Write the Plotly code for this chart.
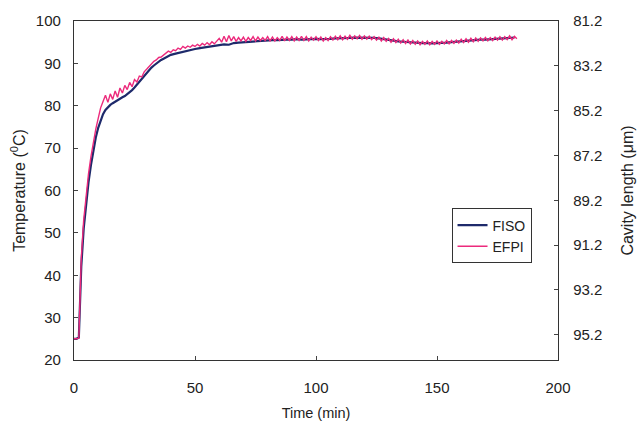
import plotly.graph_objects as go

fiso_time = list(range(0, 41)) + list(range(42, 184, 2))
fiso_temp = [
    25.0, 25.0, 25.3, 42.0, 51.0, 57.0, 62.0, 66.0, 69.5, 72.5,
    74.8, 76.6, 78.0, 79.0, 79.7, 80.2, 80.6, 81.0, 81.3, 81.6,
    82.0, 82.3, 82.7, 83.2, 83.7, 84.3, 85.0, 85.7, 86.4, 87.1,
    87.8, 88.4, 89.0, 89.5, 90.0, 90.4, 90.8, 91.1, 91.4, 91.7,
    92.0,
    92.3, 92.6, 92.9, 93.2, 93.4, 93.6, 93.8, 94.0, 94.2, 94.3,
    94.5, 94.4, 94.8, 94.9, 95.0, 95.1, 95.2, 95.3, 95.4, 95.4,
    95.5, 95.5, 95.6, 95.6, 95.6, 95.7, 95.6, 95.7, 95.8, 95.8,
    95.7, 95.7, 95.8, 95.9, 95.9, 96.0, 96.0, 96.1, 96.1, 96.1,
    96.0, 96.0, 95.9, 95.7, 95.5, 95.3, 95.2, 95.1, 95.0, 94.9,
    94.9, 94.8, 94.8, 94.7, 94.8, 94.8, 94.9, 95.0, 95.1, 95.3,
    95.4, 95.5, 95.5, 95.6, 95.6, 95.7, 95.8, 95.8, 95.9, 96.0,
    96.1,
]

efpi_time = list(range(0, 184))
efpi_temp = [
    25.0, 25.0, 25.2, 44.0, 53.0, 59.0, 64.0, 68.0, 71.5, 74.5,
    77.0, 79.5, 81.0, 82.5, 80.8, 82.8, 81.5, 83.5, 82.0, 84.2,
    83.0, 84.8, 83.8, 85.5, 84.5, 86.2, 85.6, 87.0, 86.8, 88.0,
    88.6, 89.3, 89.8, 90.5, 90.8, 91.4, 91.5, 92.0, 92.3, 92.9,
    92.6, 93.2, 93.0, 93.6, 93.3, 94.0, 93.6, 94.1, 93.8, 94.3,
    94.0, 94.5, 94.1, 94.7, 94.3, 94.9, 94.4, 95.1, 94.6, 95.4,
    95.9, 95.0, 96.4, 95.1, 96.6, 95.3, 96.3, 95.2, 96.1, 95.3,
    96.2, 95.2, 96.1, 95.4, 96.3, 95.3, 96.2, 95.4, 96.1, 95.4,
    96.3, 95.3, 96.2, 95.3, 96.1, 95.4, 96.4, 95.3, 96.2, 95.4,
    96.3, 95.3, 96.2, 95.4, 96.4, 95.4, 96.3, 95.3, 96.2, 95.5,
    96.3, 95.4, 96.2, 95.3, 96.1, 95.4, 96.3, 95.5, 96.4, 95.6,
    96.5, 95.6, 96.4, 95.7, 96.6, 95.7, 96.5, 95.8, 96.6, 95.7,
    96.5, 95.7, 96.4, 95.6, 96.3, 95.5, 96.2, 95.3, 96.1, 95.2,
    95.9, 95.0, 95.8, 94.9, 95.7, 94.8, 95.6, 94.7, 95.5, 94.6,
    95.4, 94.5, 95.3, 94.4, 95.2, 94.5, 95.3, 94.4, 95.2, 94.5,
    95.3, 94.5, 95.2, 94.6, 95.4, 94.6, 95.4, 94.7, 95.5, 94.8,
    95.7, 94.9, 95.8, 95.0, 95.9, 95.1, 96.0, 95.2, 96.0, 95.3,
    96.1, 95.3, 96.1, 95.4, 96.2, 95.5, 96.3, 95.5, 96.3, 95.6,
    96.5, 95.6, 96.4, 95.8,
]

x_ticks = [0, 50, 100, 150, 200]
temp_ticks = [20, 30, 40, 50, 60, 70, 80, 90, 100]
cavity_ticks = [81.2, 83.2, 85.2, 87.2, 89.2, 91.2, 93.2, 95.2]
cavity_labels = ["81.2", "83.2", "85.2", "87.2", "89.2", "91.2", "93.2", "95.2"]

FONT = "Liberation Sans, Arial, sans-serif"

fig = go.Figure()
fig.add_trace(go.Scatter(x=fiso_time, y=fiso_temp, mode="lines", name="FISO",
                         line=dict(color="#1e2a6b", width=2.2)))
fig.add_trace(go.Scatter(x=efpi_time, y=efpi_temp, mode="lines", name="EFPI",
                         line=dict(color="#ec2a7c", width=1.4)))
# empty trace that carries the right-hand axis
fig.add_trace(go.Scatter(x=[0], y=[90], yaxis="y2", mode="lines",
                         line=dict(width=0), showlegend=False, hoverinfo="skip"))

fig.update_layout(
    width=638, height=424,
    margin=dict(l=74, r=80, t=21, b=64),
    paper_bgcolor="white", plot_bgcolor="white",
    font=dict(family=FONT, size=15, color="#222"),
    showlegend=True,
    legend=dict(x=0.78, y=0.447, xanchor="left", yanchor="top",
                bordercolor="#333", borderwidth=1, bgcolor="white",
                font=dict(family=FONT, size=14, color="#222"),
                itemwidth=30, tracegroupgap=2),
    xaxis=dict(range=[0, 200], tickvals=x_ticks, ticks="inside", ticklen=4,
               showline=True, linecolor="#333", linewidth=1.3, mirror=True,
               showgrid=False, zeroline=False, ticklabelstandoff=14,
               tickfont=dict(size=15), automargin=False,
               title=dict(text="Time (min)", font=dict(size=14.5), standoff=12)),
    yaxis=dict(range=[20, 100], tickvals=temp_ticks, ticks="inside", ticklen=4,
               showline=True, linecolor="#333", linewidth=1.3,
               showgrid=False, zeroline=False, ticklabelstandoff=9,
               tickfont=dict(size=15), automargin=False,
               title=dict(text="Temperature (<sup>0</sup>C)", font=dict(size=16), standoff=6)),
    yaxis2=dict(overlaying="y", side="right", range=[96.33, 81.2],
                tickvals=cavity_ticks, ticktext=cavity_labels,
                ticks="inside", ticklen=4, showline=True, linecolor="#333", linewidth=1.3,
                showgrid=False, zeroline=False, ticklabelstandoff=11,
                tickfont=dict(size=15), automargin=False,
                title=dict(text="Cavity length (μm)", font=dict(size=16), standoff=20)),
)

fig.write_html("out.html")
